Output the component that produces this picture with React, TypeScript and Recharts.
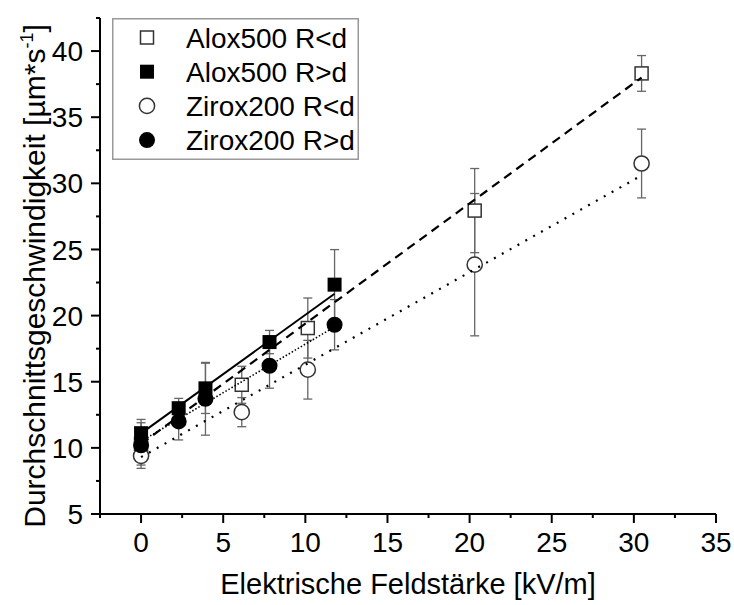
import React from 'react';
import { ScatterChart, Scatter, XAxis, YAxis, ErrorBar, Legend } from 'recharts';

// Measured series (x = field strength kV/m, y = mean velocity µm/s, err = ± error)
const aloxLowX = [0, 6.13, 10.15, 20.31, 30.47];
const aloxLowY = [10.3, 14.77, 19.06, 27.94, 38.31];
const aloxLowErr = [1.6, 1.4, 2.27, 3.18, 1.35];

const aloxHighX = [0, 2.29, 3.92, 7.82, 11.78];
const aloxHighY = [11.11, 13.0, 14.5, 18.0, 22.34];
const aloxHighErr = [1.04, 0.74, 1.9, 0.88, 2.65];

const ziroxLowX = [0, 6.13, 10.15, 20.31, 30.47];
const ziroxLowY = [9.4, 12.7, 15.91, 23.85, 31.5];
const ziroxLowErr = [0.95, 1.1, 2.22, 5.38, 2.6];

const ziroxHighX = [0, 2.29, 3.92, 7.82, 11.78];
const ziroxHighY = [10.2, 12.0, 13.71, 16.21, 19.31];
const ziroxHighErr = [0.6, 1.4, 2.75, 1.7, 1.9];

// Linear fit end points
const aloxLowFitX = [0, 30.47];
const aloxLowFitY = [10.3, 38.0];
const aloxHighFitX = [0, 11.78];
const aloxHighFitY = [11.1, 21.65];
const ziroxLowFitX = [0, 30.47];
const ziroxLowFitY = [9.3, 30.6];
const ziroxHighFitX = [0, 11.78];
const ziroxHighFitY = [10.5, 19.15];

const seriesNames = ['Alox500 R<d', 'Alox500 R>d', 'Zirox200 R<d', 'Zirox200 R>d'];

const xTicks = [-2.5, 0, 2.5, 5, 7.5, 10, 12.5, 15, 17.5, 20, 22.5, 25, 27.5, 30, 32.5, 35];
const yTicks = [5, 7.5, 10, 12.5, 15, 17.5, 20, 22.5, 25, 27.5, 30, 32.5, 35, 37.5, 40, 42.5];

const xTitle = 'Elektrische Feldstärke [kV/m]';
const yTitleMain = 'Durchschnittsgeschwindigkeit [µm*s';
const yTitleSup = '-1';
const yTitleEnd = ']';

const FONT = '"Liberation Sans", Arial, sans-serif';

const pts = (xs: number[], ys: number[], es?: number[]) =>
  xs.map((x, i) => ({ x, y: ys[i], err: es ? es[i] : 0 }));

const aloxLow = pts(aloxLowX, aloxLowY, aloxLowErr);
const aloxHigh = pts(aloxHighX, aloxHighY, aloxHighErr);
const ziroxLow = pts(ziroxLowX, ziroxLowY, ziroxLowErr);
const ziroxHigh = pts(ziroxHighX, ziroxHighY, ziroxHighErr);

const aloxLowFit = pts(aloxLowFitX, aloxLowFitY);
const aloxHighFit = pts(aloxHighFitX, aloxHighFitY);
const ziroxLowFit = pts(ziroxLowFitX, ziroxLowFitY);
const ziroxHighFit = pts(ziroxHighFitX, ziroxHighFitY);

const OpenSquare = (p: any) => (
  <rect x={p.cx - 6.5} y={p.cy - 6.5} width={13} height={13} fill="#fff" stroke="#333" strokeWidth={1.5} />
);
const FilledSquare = (p: any) => (
  <rect x={p.cx - 7} y={p.cy - 7} width={14} height={14} fill="#000" />
);
const OpenCircle = (p: any) => (
  <circle cx={p.cx} cy={p.cy} r={7.6} fill="#fff" stroke="#333" strokeWidth={1.5} />
);
const FilledCircle = (p: any) => <circle cx={p.cx} cy={p.cy} r={8} fill="#000" />;
const NoShape = () => <g />;

const isMajor = (v: number) => Math.abs(v % 5) < 1e-6;

const XTick = (props: any) => {
  const { x, y, payload } = props;
  const v = payload.value;
  const major = isMajor(v);
  return (
    <g>
      <line x1={x} x2={x} y1={y} y2={y + (major ? 9 : 4)} stroke="#000" strokeWidth={2} />
      {major && v >= 0 && (
        <text x={x} y={y + 38} textAnchor="middle" fontSize={28} fontFamily={FONT} fill="#000">
          {v}
        </text>
      )}
    </g>
  );
};

const YTick = (props: any) => {
  const { x, y, payload } = props;
  const v = payload.value;
  const major = isMajor(v);
  return (
    <g>
      <line x1={x - (major ? 9 : 4)} x2={x} y1={y} y2={y} stroke="#000" strokeWidth={2} />
      {major && (
        <text x={x - 17} y={y} dy="0.36em" textAnchor="end" fontSize={28} fontFamily={FONT} fill="#000">
          {v}
        </text>
      )}
    </g>
  );
};

const legendSymbols = [
  (cx: number, cy: number) => <rect x={cx - 6.5} y={cy - 6.5} width={13} height={13} fill="#fff" stroke="#333" strokeWidth={1.5} />,
  (cx: number, cy: number) => <rect x={cx - 7} y={cy - 7} width={14} height={14} fill="#000" />,
  (cx: number, cy: number) => <circle cx={cx} cy={cy} r={7.6} fill="#fff" stroke="#333" strokeWidth={1.5} />,
  (cx: number, cy: number) => <circle cx={cx} cy={cy} r={8} fill="#000" />,
];

const LegendBox = () => (
  <svg width={247} height={142} style={{ display: 'block' }}>
    <rect x={0.75} y={0.75} width={245.5} height={140.5} fill="#fff" stroke="#999" strokeWidth={1.5} />
    {seriesNames.map((name, i) => {
      const cy = 19.5 + i * 34.2;
      return (
        <g key={name}>
          {legendSymbols[i](35, cy)}
          <text x={74} y={cy + 10} fontSize={28} fontFamily={FONT} fill="#000">
            {name}
          </text>
        </g>
      );
    })}
  </svg>
);

export default function App() {
  return (
    <div style={{ position: 'absolute', left: 0, top: 0, width: 734, height: 605, background: '#fff' }}>
      <ScatterChart width={734} height={605} margin={{ top: 18, right: 18, bottom: 0, left: 0 }}>
        <XAxis
          type="number"
          dataKey="x"
          domain={[-2.5, 35]}
          ticks={xTicks}
          interval={0}
          allowDataOverflow
          height={91}
          tickSize={0}
          tickMargin={0}
          tickLine={false}
          axisLine={{ stroke: '#000', strokeWidth: 2 }}
          tick={<XTick />}
          label={{ value: xTitle, position: 'insideBottom', offset: 0, fontSize: 29, fontFamily: FONT, fill: '#000', dy: -11 }}
        />
        <YAxis
          type="number"
          dataKey="y"
          domain={[5, 42.5]}
          ticks={yTicks}
          interval={0}
          allowDataOverflow
          width={100}
          tickSize={0}
          tickMargin={0}
          tickLine={false}
          axisLine={{ stroke: '#000', strokeWidth: 2 }}
          tick={<YTick />}
          label={(p: any) => {
            const vb = p.viewBox || {};
            const cx = 45;
            const cy = (vb.y ?? 18) + (vb.height ?? 496) / 2 + 10;
            return (
              <text
                x={cx}
                y={cy}
                transform={`rotate(-90 ${cx} ${cy})`}
                textAnchor="middle"
                fontSize={30}
                fontFamily={FONT}
                fill="#000"
              >
                {yTitleMain}
                <tspan fontSize={18} dy={-12}>{yTitleSup}</tspan>
                <tspan dy={12}>{yTitleEnd}</tspan>
              </text>
            );
          }}
        />
        <Legend
          layout="vertical"
          align="center"
          verticalAlign="middle"
          content={() => <LegendBox />}
          wrapperStyle={{ left: 112, top: 18, width: 247, height: 142 }}
        />
        <Scatter name={seriesNames[0]} data={aloxLow} shape={OpenSquare} isAnimationActive={false}>
          <ErrorBar dataKey="err" direction="y" width={4.5} stroke="#666" strokeWidth={1.3} />
        </Scatter>
        <Scatter name={seriesNames[2]} data={ziroxLow} shape={OpenCircle} isAnimationActive={false}>
          <ErrorBar dataKey="err" direction="y" width={4.5} stroke="#666" strokeWidth={1.3} />
        </Scatter>
        <Scatter name={seriesNames[1]} data={aloxHigh} shape={FilledSquare} isAnimationActive={false}>
          <ErrorBar dataKey="err" direction="y" width={4.5} stroke="#666" strokeWidth={1.3} />
        </Scatter>
        <Scatter name={seriesNames[3]} data={ziroxHigh} shape={FilledCircle} isAnimationActive={false}>
          <ErrorBar dataKey="err" direction="y" width={4.5} stroke="#666" strokeWidth={1.3} />
        </Scatter>
        <Scatter
          data={aloxLowFit}
          shape={NoShape}
          fill="none"
          line={{ stroke: '#000', strokeWidth: 2.2, strokeDasharray: '9 6' }}
          legendType="none"
          isAnimationActive={false}
        />
        <Scatter
          data={aloxHighFit}
          shape={NoShape}
          fill="none"
          line={{ stroke: '#000', strokeWidth: 2 }}
          legendType="none"
          isAnimationActive={false}
        />
        <Scatter
          data={ziroxLowFit}
          shape={NoShape}
          fill="none"
          line={{ stroke: '#000', strokeWidth: 2.2, strokeDasharray: '2 7' }}
          legendType="none"
          isAnimationActive={false}
        />
        <Scatter
          data={ziroxHighFit}
          shape={NoShape}
          fill="none"
          line={{ stroke: '#000', strokeWidth: 1.6, strokeDasharray: '1.5 2' }}
          legendType="none"
          isAnimationActive={false}
        />
      </ScatterChart>
    </div>
  );
}
